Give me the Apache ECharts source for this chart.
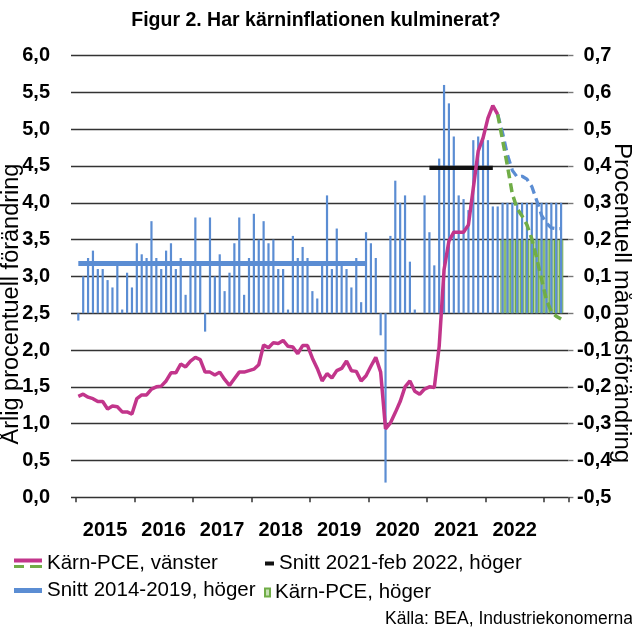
<!DOCTYPE html>
<html>
<head>
<meta charset="utf-8">
<title>Figur 2</title>
<script src="https://cdn.jsdelivr.net/npm/echarts@6/dist/echarts.min.js"></script>
<style>
html, body { margin: 0; padding: 0; background: #fff; }
#chart { width: 632px; height: 631px; }
</style>
</head>
<body>
<div id="chart"></div>
<script>
// månader jan 2015 - apr 2023, med en tom kategori i varje ände
var months = [''];
for (var y = 2015; y <= 2023; y++) {
    for (var m = 1; m <= 12; m++) {
        if (y == 2023 && m > 4) break;
        months.push(y + '-' + (m < 10 ? '0' + m : m));
    }
}
months.push('');

// årlig förändring, vänster axel (jan 2015 - mar 2022)
var arlig = [
    1.37, 1.40, 1.36, 1.34, 1.30, 1.30, 1.20, 1.24, 1.23, 1.16, 1.16, 1.13,
    1.34, 1.39, 1.39, 1.47, 1.50, 1.51, 1.58, 1.69, 1.69, 1.81, 1.77, 1.85,
    1.90, 1.87, 1.70, 1.70, 1.66, 1.70, 1.60, 1.52, 1.61, 1.70, 1.70, 1.72,
    1.74, 1.80, 2.07, 2.03, 2.10, 2.09, 2.13, 2.05, 2.04, 1.95, 2.06, 2.06,
    1.89, 1.75, 1.58, 1.68, 1.62, 1.72, 1.75, 1.85, 1.72, 1.71, 1.58, 1.65,
    1.78, 1.90, 1.70, 0.93, 1.01, 1.15, 1.30, 1.50, 1.58, 1.44, 1.40, 1.47,
    1.50, 1.49, 2.05, 3.09, 3.48, 3.60, 3.60, 3.60, 3.70, 4.20, 4.70, 4.88,
    5.15, 5.32, 5.20
];
// prognoser årstakt (mar 2022 - apr 2023)
var prognos02 = [5.20, 4.85, 4.50, 4.12, 3.92, 3.82, 3.70, 3.51, 3.25, 2.96, 2.68, 2.52, 2.46, 2.42];
var prognos03 = [5.20, 4.95, 4.65, 4.44, 4.35, 4.36, 4.32, 4.22, 4.03, 3.83, 3.72, 3.66, 3.65, 3.65];

// månadsförändring, höger axel (jan 2015 - apr 2023)
var manad = [
    -0.02, 0.10, 0.15, 0.17, 0.12, 0.12, 0.09, 0.07, 0.13, 0.01, 0.11, 0.07,
    0.19, 0.16, 0.15, 0.25, 0.15, 0.12, 0.17, 0.19, 0.12, 0.15, 0.05, 0.13,
    0.26, 0.13, -0.05, 0.26, 0.10, 0.16, 0.06, 0.11, 0.19, 0.26, 0.05, 0.15,
    0.27, 0.20, 0.25, 0.19, 0.20, 0.12, 0.12, 0.01, 0.21, 0.15, 0.18, 0.15,
    0.06, 0.04, 0.13, 0.32, 0.12, 0.23, 0.13, 0.12, 0.07, 0.15, 0.03, 0.22,
    0.19, 0.15, -0.06, -0.46, 0.21, 0.36, 0.30, 0.32, 0.14, 0.01, 0.00, 0.32,
    0.22, 0.13, 0.42, 0.62, 0.57, 0.48, 0.32, 0.31, 0.28, 0.47, 0.48, 0.48,
    0.47, 0.29, 0.29, 0.30, 0.30, 0.30, 0.30, 0.30, 0.30, 0.30, 0.30, 0.30,
    0.30, 0.30, 0.30, 0.30
];
// prognos 0,2 % per månad (apr 2022 - apr 2023)
var manadPrognos = [0.2, 0.2, 0.2, 0.2, 0.2, 0.2, 0.2, 0.2, 0.2, 0.2, 0.2, 0.2, 0.2];

var snitt1419 = 0.135;   // jan 2015 - dec 2019
var snitt2122 = 0.395;   // jan 2021 - feb 2022

// hjälp: lägg en serie på rätt plats bland kategorierna
function place(values, startMonth) {
    var start = months.indexOf(startMonth);
    return months.map(function(c, i) {
        var k = i - start;
        return (k >= 0 && k < values.length) ? values[k] : null;
    });
}
function flat(value, from, to) {
    var a = months.indexOf(from), b = months.indexOf(to);
    return months.map(function(c, i) { return (i >= a && i <= b) ? value : null; });
}
function komma(v) {
    if (Math.abs(v) < 1e-9) v = 0;
    return v.toFixed(1).replace('.', ',');
}

var font = "'Liberation Sans', Arial, sans-serif";
var chart = echarts.init(document.getElementById('chart'));

var option = {
    animation: false,
    textStyle: { fontFamily: font, color: '#000' },
    title: [{
        text: 'Figur 2. Har kärninflationen kulminerat?',
        left: 'center',
        top: 6,
        textStyle: { fontFamily: font, fontSize: 19.5, fontWeight: 'bold', color: '#000' }
    }, {
        text: 'Källa: BEA, Industriekonomerna',
        left: 385,
        top: 610,
        padding: 0,
        textStyle: { fontFamily: font, fontSize: 17.5, fontWeight: 'normal', color: '#000' }
    }],
    legend: [{
        data: ['Kärn-PCE, vänster'],
        left: 14, top: 553, padding: 0,
        // magentarand överst i en 28x10-ruta, gröna streck läggs till under
        icon: 'path://M0,0H28V4H0Z M0,10H0.01V10.01H0Z', itemWidth: 28, itemHeight: 10,
        textStyle: { fontFamily: font, fontSize: 20.5, color: '#000' }
    }, {
        data: ['Snitt 2021-feb 2022, höger'],
        left: 265, top: 553, padding: 0,
        icon: 'rect', itemWidth: 9, itemHeight: 4,
        textStyle: { fontFamily: font, fontSize: 20.5, color: '#000' }
    }, {
        data: ['Snitt 2014-2019, höger'],
        left: 14, top: 580, padding: 0,
        icon: 'rect', itemWidth: 28, itemHeight: 5,
        textStyle: { fontFamily: font, fontSize: 20.5, color: '#000' }
    }, {
        data: ['Kärn-PCE, höger'],
        left: 264, top: 582, padding: 0,
        icon: 'rect', itemWidth: 5, itemHeight: 8,
        textStyle: { fontFamily: font, fontSize: 20.5, color: '#000' }
    }],
    graphic: [
        // gröna streck under den första legendikonen
        { type: 'rect', shape: { x: 14, y: 565, width: 10, height: 3 }, style: { fill: '#70ad47' } },
        { type: 'rect', shape: { x: 30, y: 565, width: 12, height: 3 }, style: { fill: '#70ad47' } },
        {
            type: 'text', x: 12, y: 304, rotation: Math.PI / 2,
            style: { text: 'Årlig procentuell förändring', font: '23.5px ' + font, fill: '#000', align: 'center', verticalAlign: 'middle' }
        },
        {
            type: 'text', x: 622, y: 303, rotation: -Math.PI / 2,
            style: { text: 'Procentuell månadsförändring', font: '24px ' + font, fill: '#000', align: 'center', verticalAlign: 'middle' }
        }
    ],
    grid: { left: 71, right: 63.6, top: 55.5, bottom: 133.7 },
    xAxis: [{
        type: 'category',
        data: months,
        boundaryGap: true,
        offset: 12.7,
        axisLine: { show: false },
        axisTick: {
            show: true, length: 5,
            interval: function(i, v) { return v.slice(5) === '01'; },
            lineStyle: { color: '#333', width: 1.5 }
        },
        axisLabel: {
            interval: function(i, v) { return v.slice(5) === '07'; },
            formatter: function(v) { return v.slice(0, 4); },
            margin: 10,
            padding: [0, 5, 0, 0],
            fontFamily: font, fontSize: 20, fontWeight: 'bold', color: '#000'
        },
        splitLine: { show: false }
    }, {
        type: 'category',
        data: months,
        show: false
    }],
    yAxis: [{
        type: 'value',
        min: 0, max: 6, interval: 0.5,
        axisLine: { show: false },
        axisTick: { show: false },
        axisLabel: { formatter: komma, margin: 21, fontFamily: font, fontSize: 20, fontWeight: 'bold', color: '#000' },
        splitLine: { lineStyle: { color: '#333', width: 1.4 } }
    }, {
        type: 'value',
        min: -0.5, max: 0.7, interval: 0.1,
        axisLine: { show: false },
        axisTick: { show: true, length: 5, lineStyle: { color: '#777', width: 1.4 } },
        axisLabel: { formatter: komma, margin: 43, align: 'right', fontFamily: font, fontSize: 20, fontWeight: 'bold', color: '#000' },
        splitLine: { show: false }
    }],
    series: [{
        name: 'Kärn-PCE, höger',
        type: 'bar',
        xAxisIndex: 1, yAxisIndex: 1,
        data: place(manadPrognos, '2022-04'),
        barWidth: 4.4,
        itemStyle: { color: '#c6e0b4', borderColor: '#70ad47', borderWidth: 1 },
        z: 1
    }, {
        name: 'Kärn-PCE, höger',
        type: 'bar',
        yAxisIndex: 1,
        data: place(manad, '2015-01'),
        barWidth: 2.2,
        itemStyle: { color: '#5b8dd3' },
        z: 2
    }, {
        name: 'Snitt 2014-2019, höger',
        type: 'line',
        yAxisIndex: 1,
        data: flat(snitt1419, '2015-01', '2019-12'),
        symbol: 'none',
        lineStyle: { color: '#5b8dd3', width: 5 },
        itemStyle: { color: '#5b8dd3' },
        z: 3
    }, {
        name: 'Snitt 2021-feb 2022, höger',
        type: 'line',
        yAxisIndex: 1,
        data: flat(snitt2122, '2021-01', '2022-02'),
        symbol: 'none',
        lineStyle: { color: '#111', width: 4.3 },
        itemStyle: { color: '#111' },
        z: 3
    }, {
        name: 'Kärn-PCE, vänster',
        type: 'line',
        data: place(arlig, '2015-01'),
        symbol: 'none',
        lineStyle: { color: '#c2358b', width: 3.5 },
        itemStyle: { color: '#c2358b' },
        z: 5
    }, {
        name: 'Kärn-PCE, vänster',
        type: 'line',
        data: place(prognos03, '2022-03'),
        symbol: 'none',
        lineStyle: { color: '#5b8dd3', width: 3.3, type: [9, 5] },
        itemStyle: { color: '#5b8dd3' },
        z: 4
    }, {
        name: 'Kärn-PCE, vänster',
        type: 'line',
        data: place(prognos02, '2022-03'),
        symbol: 'none',
        lineStyle: { color: '#70ad47', width: 3.5, type: [9, 5] },
        itemStyle: { color: '#70ad47' },
        z: 4
    }]
};
chart.setOption(option);
</script>
</body>
</html>
